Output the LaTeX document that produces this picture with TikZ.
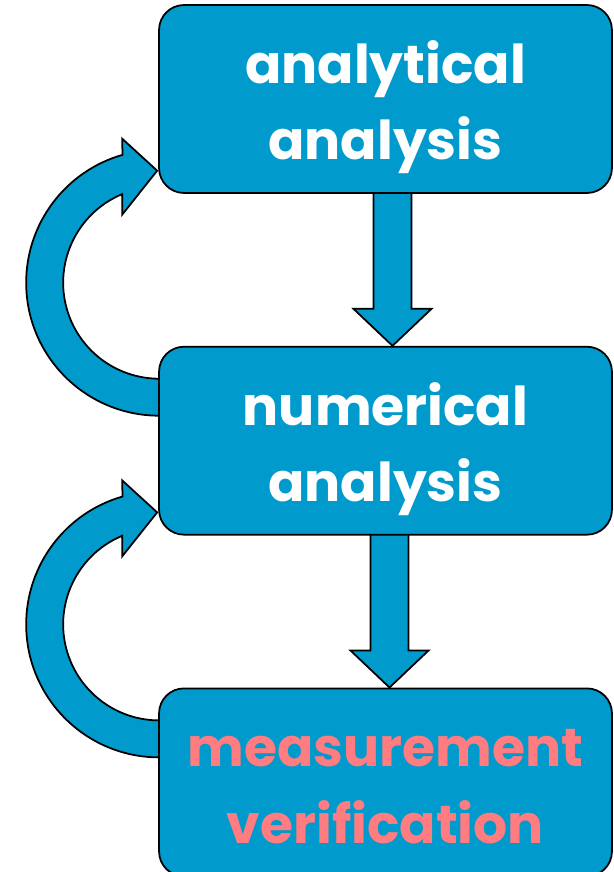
\documentclass[tikz,border=0pt]{standalone}
\usepackage{fontspec}
\setmainfont{Poppins}
\usetikzlibrary{positioning,calc,backgrounds}

\begin{document}
\begin{tikzpicture}[x=0.02cm, y=0.02cm, font=\bfseries\fontsize{30.5}{43.6}\selectfont]

      % Colors: box blue and pink text
      \definecolor{boxfill}{RGB}{0,154,204}
      \definecolor{measpink}{RGB}{255,124,128}

      \tikzset{
        stepbox/.style={draw, line width=1pt, fill=boxfill, rounded corners=0.5cm,
          minimum width=9.06cm, minimum height=3.76cm, align=center,
          text=white, inner sep=0pt, text height=2.54cm, text depth=0.1cm},
        blockarrow/.style={draw, line width=1pt, fill=boxfill, line join=miter}
      }

      \useasboundingbox (0,0) rectangle (613,-872);

      % --- the three steps ---
      \node[stepbox] (ana) at (385.5,-99) {analytical\\analysis};
      \node[stepbox, below=3.04cm of ana] (num) {numerical\\analysis};
      \node[stepbox, below=3.04cm of num, text=measpink] (meas) {measurement\\verification};

      \begin{scope}[on background layer]
        % down arrow: analytical -> numerical
        \draw[blockarrow] ($(ana.south)+(-12,5)$) -- ($(num.north)+(-12,37)$)
          -- ($(num.north)+(-32,37)$) -- ($(num.north)+(7,0)$)
          -- ($(num.north)+(46,37)$) -- ($(num.north)+(26,37)$)
          -- ($(ana.south)+(26,5)$) -- cycle;

        % down arrow: numerical -> measurement
        \draw[blockarrow] ($(num.south)+(-15,5)$) -- ($(meas.north)+(-15,37)$)
          -- ($(meas.north)+(-35,37)$) -- ($(meas.north)+(4,0)$)
          -- ($(meas.north)+(43,37)$) -- ($(meas.north)+(23,37)$)
          -- ($(num.south)+(23,5)$) -- cycle;

        % curved arrow: numerical -> analytical
        \coordinate (c1) at ($(num.west)+(1,158)$);
        \draw[blockarrow] ($(c1)+(270:133)+(6,0)$) -- ($(c1)+(270:133)$)
          arc[start angle=270, end angle=106, radius=133]
          -- ($(c1)+(-37,144)$) -- ($(c1)+(-2,112)$) -- ($(c1)+(-37,68)$)
          -- ($(c1)+(112.7:96)$)
          arc[start angle=112.7, end angle=270, radius=96] -- ++(6,0) -- cycle;

        % curved arrow: measurement -> numerical
        \coordinate (c2) at ($(meas.west)+(1,158)$);
        \draw[blockarrow] ($(c2)+(270:133)+(6,0)$) -- ($(c2)+(270:133)$)
          arc[start angle=270, end angle=106, radius=133]
          -- ($(c2)+(-37,144)$) -- ($(c2)+(-2,112)$) -- ($(c2)+(-37,68)$)
          -- ($(c2)+(112.7:96)$)
          arc[start angle=112.7, end angle=270, radius=96] -- ++(6,0) -- cycle;
      \end{scope}

    \end{tikzpicture}
\end{document}
